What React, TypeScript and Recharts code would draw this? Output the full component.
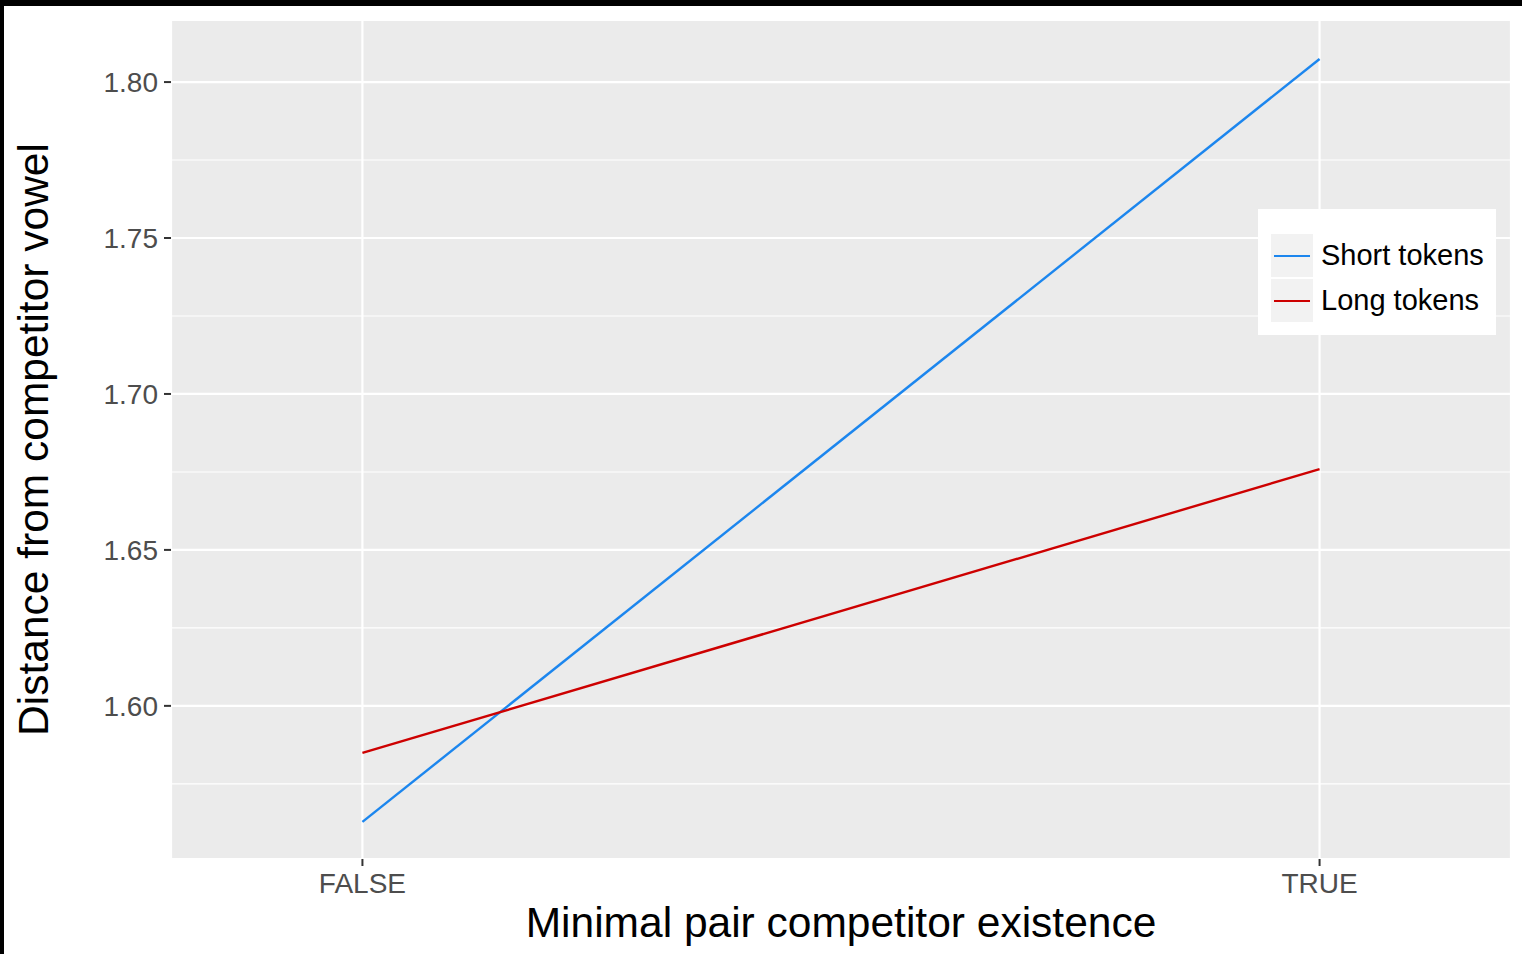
import React from 'react';
import { LineChart, Line, XAxis, YAxis, CartesianGrid, ReferenceLine } from 'recharts';

const categories = ['FALSE', 'TRUE'];
const shortTokens = [1.5628, 1.8074];
const longTokens = [1.5849, 1.6759];
const yTicks = [1.6, 1.65, 1.7, 1.75, 1.8];
const yMinor = [1.575, 1.625, 1.675, 1.725, 1.775];
const seriesNames = ['Short tokens', 'Long tokens'];

const BLUE = '#1C86EE';
const RED = '#CD0000';
const FONT = '"Liberation Sans", Arial, Helvetica, sans-serif';

const data = categories.map((c, i) => ({ x: i, cat: c, short: shortTokens[i], long: longTokens[i] }));

export default function App() {
  return (
    <div style={{ position: 'absolute', left: 0, top: 0, width: 1522, height: 954, background: '#fff', fontFamily: FONT }}>
      <LineChart
        width={1522}
        height={954}
        data={data}
        margin={{ top: 20, right: 11, bottom: 0, left: 0 }}
      >
        <CartesianGrid fill="#EBEBEB" stroke="#FFFFFF" strokeWidth={2.2} />
        {yMinor.map((v) => (
          <ReferenceLine key={v} y={v} stroke="#FFFFFF" strokeWidth={1.1} />
        ))}
        <XAxis
          dataKey="x"
          type="number"
          domain={[-0.2, 1.2]}
          ticks={[0, 1]}
          allowDataOverflow
          tickFormatter={(v: number) => categories[v]}
          height={95}
          axisLine={false}
          tickSize={7}
          tickMargin={7}
          tickLine={{ stroke: '#333333', strokeWidth: 2 }}
          tick={{ fill: '#4D4D4D', fontSize: 28, fontFamily: FONT }}
          label={{
            value: 'Minimal pair competitor existence',
            position: 'insideBottom',
            offset: 17,
            fill: '#000',
            fontSize: 42.5,
            fontFamily: FONT,
          }}
        />
        <YAxis
          type="number"
          domain={[1.5509, 1.8199]}
          ticks={yTicks}
          allowDataOverflow
          tickFormatter={(v: number) => v.toFixed(2)}
          width={171}
          axisLine={false}
          tickSize={7}
          tickMargin={6}
          tickLine={{ stroke: '#333333', strokeWidth: 2 }}
          tick={{ fill: '#4D4D4D', fontSize: 28, fontFamily: FONT }}
          label={{
            value: 'Distance from competitor vowel',
            angle: -90,
            position: 'insideLeft',
            offset: 33,
            fill: '#000',
            fontSize: 42.5,
            fontFamily: FONT,
            style: { textAnchor: 'middle' },
          }}
        />
        <Line type="linear" dataKey="short" name={seriesNames[0]} stroke={BLUE} strokeWidth={2.4} dot={false} isAnimationActive={false} />
        <Line type="linear" dataKey="long" name={seriesNames[1]} stroke={RED} strokeWidth={2.4} dot={false} isAnimationActive={false} />
      </LineChart>

      <div style={{ position: 'absolute', left: 1258, top: 209, width: 238, height: 126, background: '#fff' }}>
        {seriesNames.map((name, i) => (
          <div key={name} style={{ position: 'absolute', left: 13, top: 25 + i * 45, height: 43, display: 'flex', alignItems: 'center' }}>
            <div style={{ width: 42, height: 43, background: '#F2F2F2', position: 'relative' }}>
              <div style={{ position: 'absolute', left: 3, right: 3, top: 20.5, height: 2.4, background: i === 0 ? BLUE : RED }} />
            </div>
            <span style={{ marginLeft: 8, fontSize: 29, color: '#000', whiteSpace: 'nowrap', lineHeight: '43px' }}>{name}</span>
          </div>
        ))}
      </div>

      <div style={{ position: 'absolute', left: 0, top: 0, width: 1522, height: 6, background: '#000' }} />
      <div style={{ position: 'absolute', left: 0, top: 0, width: 4, height: 954, background: '#000' }} />
    </div>
  );
}
